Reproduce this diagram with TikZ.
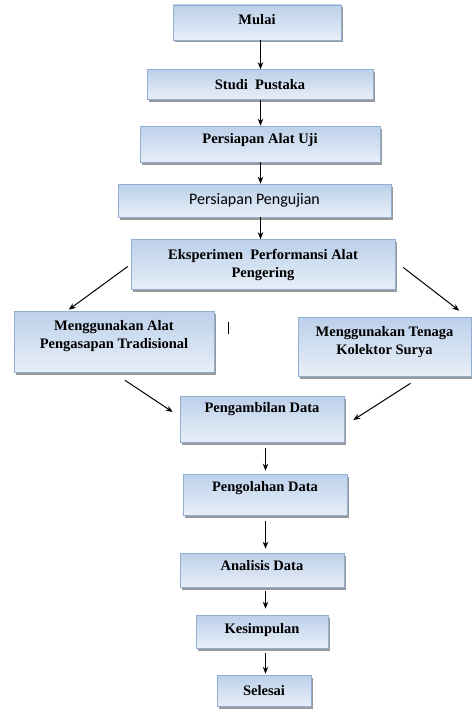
\documentclass[tikz,border=0pt]{standalone}
\usepackage{fontspec}
\setmainfont{Liberation Serif}
\newfontfamily\calibrifont{Carlito}
\usetikzlibrary{arrows.meta,shadows}
\definecolor{boxtop}{HTML}{BCD0EA}
\definecolor{boxbot}{HTML}{E8EFF8}
\definecolor{boxline}{HTML}{92AED2}
\tikzset{
  flowbox/.style={draw=boxline, line width=0.6pt, top color=boxtop, bottom color=boxbot,
    align=center, inner sep=0pt,
    font=\bfseries\fontsize{14.5}{18}\selectfont,
    drop shadow={shadow xshift=2pt, shadow yshift=-2.5pt, fill=black!50, opacity=0.8}},
  arr/.style={-{Stealth[length=7pt,width=5.5pt]}, line width=1pt, black},
}
\begin{document}
\begin{tikzpicture}[x=1pt,y=-1pt]
\useasboundingbox (0,0) rectangle (471,709);
% nodes
\node[flowbox, minimum width=168, minimum height=35, text depth=7pt] (mulai) at (257,22.5) {Mulai};
\node[flowbox, minimum width=226, minimum height=30] (studi) at (260,84.5) {Studi\hspace{0.5em}Pustaka};
\node[flowbox, minimum width=240, minimum height=36, text depth=11pt] (alat) at (260,144) {Persiapan Alat Uji};
\node[flowbox, minimum width=273, minimum height=33, font=\calibrifont\fontsize{16}{18}\selectfont] (uji) at (254.5,200.5) {Persiapan Pengujian};
\node[flowbox, minimum width=264, minimum height=50] (eks) at (263,264.5) {Eksperimen\hspace{0.5em}Performansi Alat\\Pengering};
\node[flowbox, minimum width=200, minimum height=61, text depth=14pt] (left) at (114,341.5) {Menggunakan Alat\\Pengasapan Tradisional};
\node[flowbox, minimum width=173, minimum height=59, text depth=13pt] (right) at (384.5,346.5) {Menggunakan Tenaga\\Kolektor Surya};
\node[flowbox, minimum width=164, minimum height=46, text depth=23pt] (ambil) at (262,419) {Pengambilan Data};
\node[flowbox, minimum width=164, minimum height=41, text depth=17pt] (olah) at (265,494.5) {Pengolahan Data};
\node[flowbox, minimum width=164, minimum height=34, text depth=9pt] (anal) at (262,570) {Analisis Data};
\node[flowbox, minimum width=132, minimum height=33, text depth=7pt] (kes) at (262,631.5) {Kesimpulan};
\node[flowbox, minimum width=94, minimum height=31] (sel) at (264,690.5) {Selesai};
% arrow columns
\coordinate (topx) at (260.5,0);
\coordinate (botx) at (265.5,0);
% vertical arrows
\draw[arr] (mulai.south -| topx) -- (studi.north -| topx);
\draw[arr] (studi.south -| topx) -- (alat.north -| topx);
\draw[arr] (alat.south -| topx) -- (uji.north -| topx);
\draw[arr] (uji.south -| topx) -- (eks.north -| topx);
\draw[arr, shorten <=6pt, shorten >=3pt] (ambil.south -| botx) -- (olah.north -| botx);
\draw[arr, shorten <=6pt, shorten >=4pt] (olah.south -| botx) -- (anal.north -| botx);
\draw[arr, shorten <=4pt, shorten >=6pt] (anal.south -| botx) -- (kes.north -| botx);
\draw[arr, shorten <=5pt, shorten >=1pt] (kes.south -| botx) -- (sel.north -| botx);
% diagonal arrows
\draw[arr] ([shift={(-3,2)}]eks.west) -- ([shift={(55,-1)}]left.north west);
\draw[arr] ([shift={(8,3)}]eks.east) -- ([shift={(-12,-6)}]right.north east);
\draw[arr] ([shift={(11,8)}]left.south) -- ([shift={(-7,-7)}]ambil.west);
\draw[arr] ([shift={(26,7)}]right.south) -- ([shift={(9,1)}]ambil.east);
% stray cursor mark
\coordinate (cur) at (228,322);
\draw[line width=0.8pt] (cur) -- ++(0,12);
\end{tikzpicture}
\end{document}
